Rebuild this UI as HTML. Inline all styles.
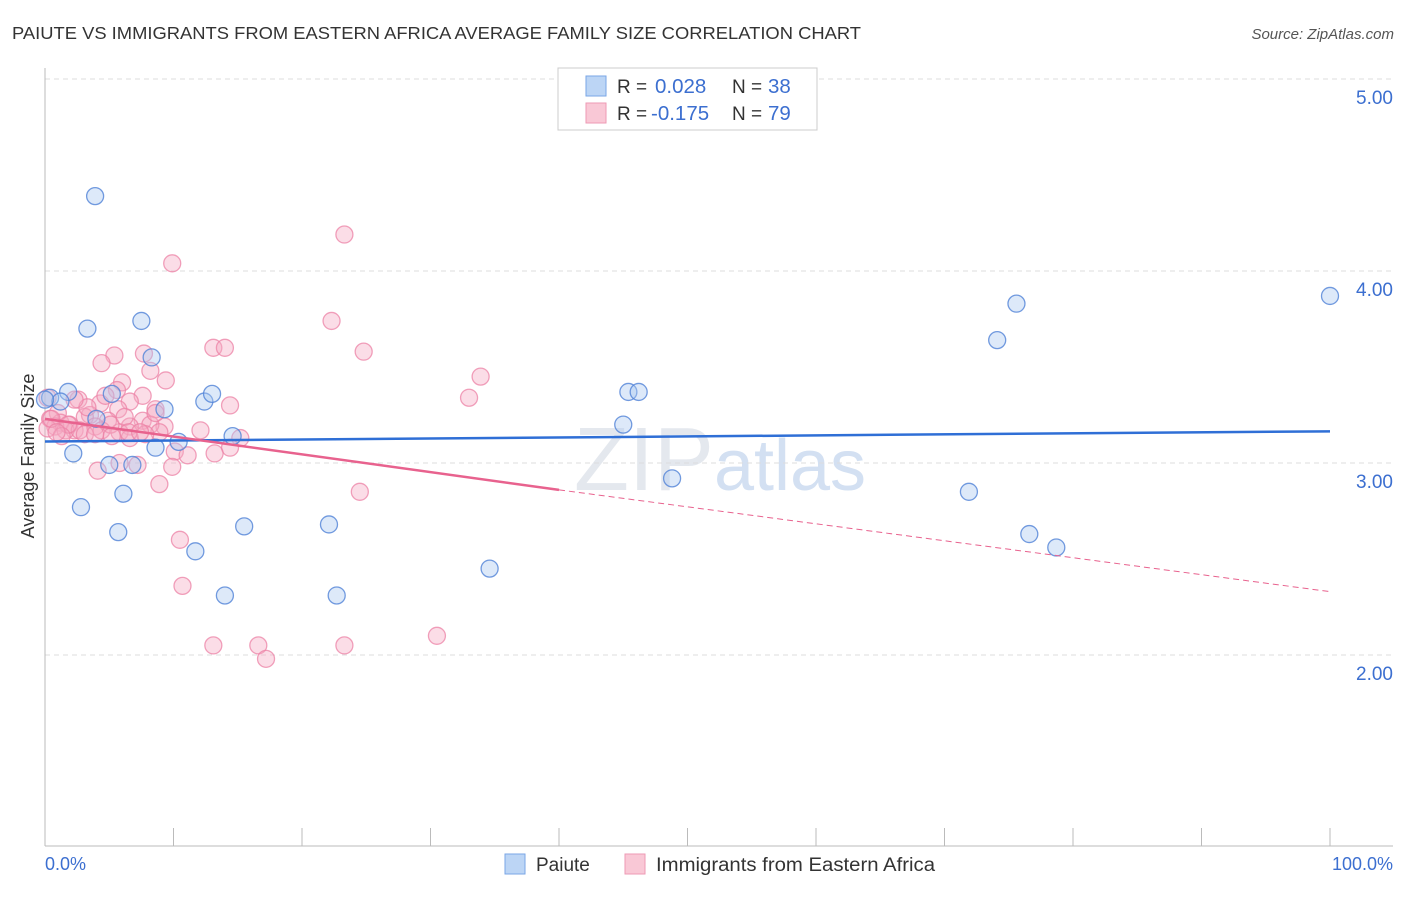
<!DOCTYPE html>
<html><head><meta charset="utf-8"><style>
body{margin:0;background:#fff;font-family:"Liberation Sans",sans-serif}
svg text{font-family:"Liberation Sans",sans-serif}
</style></head><body>
<svg id="chart" width="1406" height="892">
<text x="12" y="39" font-size="17.5" fill="#333" textLength="849" lengthAdjust="spacingAndGlyphs">PAIUTE VS IMMIGRANTS FROM EASTERN AFRICA AVERAGE FAMILY SIZE CORRELATION CHART</text>
<text x="1394" y="39" font-size="15" fill="#555" font-style="italic" text-anchor="end">Source: ZipAtlas.com</text>
<text x="720" y="490" font-size="90" fill="#e4e8ee" text-anchor="middle" font-family="Liberation Serif">ZIP<tspan fill="#d3e0f2" font-family="Liberation Sans" font-size="72">atlas</tspan></text>
<g id="grid"></g><g id="marks"></g>
<text x="34" y="456" font-size="18" fill="#333" text-anchor="middle" transform="rotate(-90 34 456)">Average Family Size</text>
<text x="45" y="870" font-size="18" fill="#3c6fd0">0.0%</text>
<text x="1393" y="870" font-size="18" fill="#3c6fd0" text-anchor="end">100.0%</text>
<g>
<rect x="558" y="68" width="259" height="62" fill="#fff" stroke="#ccc"/>
<rect x="586" y="76" width="20" height="20" fill="#bcd5f5" stroke="#7aa6e6"/>
<rect x="586" y="103" width="20" height="20" fill="#f9c8d6" stroke="#ee9ab4"/>
<text x="617" y="93" font-size="19" fill="#333">R = <tspan x="655" fill="#3c6fd0" font-size="20.5">0.028</tspan><tspan x="732">N = </tspan><tspan x="768" fill="#3c6fd0" font-size="20.5">38</tspan></text>
<text x="617" y="120" font-size="19" fill="#333">R = <tspan x="651" fill="#3c6fd0" font-size="20.5">-0.175</tspan><tspan x="732">N = </tspan><tspan x="768" fill="#3c6fd0" font-size="20.5">79</tspan></text>
</g>
<g>
<rect x="505" y="854" width="20" height="20" fill="#bcd5f5" stroke="#7aa6e6"/>
<text x="536" y="871" font-size="19" fill="#333">Paiute</text>
<rect x="625" y="854" width="20" height="20" fill="#f9c8d6" stroke="#ee9ab4"/>
<text x="656" y="871" font-size="19" fill="#333" textLength="279" lengthAdjust="spacingAndGlyphs">Immigrants from Eastern Africa</text>
</g>
</svg>
<script>
const yTicks=[2,3,4,5];
const yTickLabels=["2.00","3.00","4.00","5.00"];
const xTicks=[10,20,30,40,50,60,70,80,90,100];
const paiuteX=[3.9,3.3,7.5,8.3,1.8,0.4,1.2,5.2,9.3,12.4,13,4,14.6,10.4,8.6,2.2,5,6.8,6.1,2.8,5.7,15.5,11.7,22.1,14,22.7,34.6,45.4,46.2,45,48.8,71.9,74.1,75.6,100,76.6,78.7,0];
const paiuteY=[4.39,3.7,3.74,3.55,3.37,3.34,3.32,3.36,3.28,3.32,3.36,3.23,3.14,3.11,3.08,3.05,2.99,2.99,2.84,2.77,2.64,2.67,2.54,2.68,2.31,2.31,2.45,3.37,3.37,3.2,2.92,2.85,3.64,3.83,3.87,2.63,2.56,3.33];
const immX=[23.3,9.9,22.3,24.8,33.9,33,13.1,14,7.7,5.4,4.4,8.2,9.4,6,5.6,7.6,2.6,4.3,6.6,8.6,5.7,14.4,1,3.5,3.1,4.9,7.6,1.2,1.9,0.4,0.8,2.3,3.9,6.6,9.3,8.2,0.2,1.6,2.7,4.4,5.8,8.9,6.6,15.2,14.4,10.1,11.1,13.2,4.1,5.8,7.2,9.9,8.9,24.5,10.5,10.7,13.1,16.6,17.2,23.3,30.5,0.5,1.8,3.3,5.1,7.8,12.1,3.1,1.3,5.2,0.2,4.7,6.2,8.6,6.5,2.3,3.9,7.4,0.9];
const immY=[4.19,4.04,3.74,3.58,3.45,3.34,3.6,3.6,3.57,3.56,3.52,3.48,3.43,3.42,3.38,3.35,3.33,3.31,3.32,3.28,3.28,3.3,3.26,3.25,3.24,3.22,3.22,3.21,3.2,3.23,3.19,3.17,3.19,3.19,3.19,3.2,3.18,3.17,3.17,3.17,3.16,3.16,3.13,3.13,3.08,3.06,3.04,3.05,2.96,3,2.99,2.98,2.89,2.85,2.6,2.36,2.05,2.05,1.98,2.05,2.1,3.23,3.2,3.29,3.2,3.15,3.17,3.15,3.14,3.14,3.34,3.35,3.24,3.26,3.16,3.33,3.15,3.16,3.16];
const sx=v=>45+v*12.85, sy=v=>79+(5-v)*192;
const NS="http://www.w3.org/2000/svg";
const grid=document.getElementById('grid'), marks=document.getElementById('marks');
function mk(tag,attrs,parent){const e=document.createElementNS(NS,tag);for(const k in attrs)e.setAttribute(k,attrs[k]);parent.appendChild(e);return e;}
yTicks.forEach((t,i)=>{
 const l=mk('line',{x1:45,x2:1393,y1:sy(t),y2:sy(t),stroke:'#ddd','stroke-dasharray':'5,4'},grid);
 
 
 const tx=mk('text',{x:1393,y:sy(t)+25,'font-size':19,fill:'#3c6fd0','text-anchor':'end'},grid);
 tx.textContent=yTickLabels[i];
 
 
});
const ax=mk('line',{x1:45,x2:45,y1:68,y2:846,stroke:'#bbb'},grid);


const bx=mk('line',{x1:45,x2:1393,y1:846,y2:846,stroke:'#bbb'},grid);


xTicks.forEach(t=>{
 const l=mk('line',{x1:sx(t),x2:sx(t),y1:828,y2:846,stroke:'#bbb'},grid);
 
 
});
immX.forEach((x,i)=>{
 const c=mk('circle',{cx:sx(x),cy:sy(immY[i]),r:8.5,fill:'rgba(246,170,195,0.4)',stroke:'rgba(236,130,165,0.75)','stroke-width':1.3},marks);
 
 
});
paiuteX.forEach((x,i)=>{
 const c=mk('circle',{cx:sx(x),cy:sy(paiuteY[i]),r:8.5,fill:'rgba(170,200,240,0.4)',stroke:'rgba(80,130,215,0.8)','stroke-width':1.3},marks);
 
 
});
const bl=mk('line',{x1:sx(0),y1:sy(3.112),x2:sx(100),y2:sy(3.165),stroke:'#2f6fd6','stroke-width':2.5},marks);


const p1=mk('line',{x1:sx(0),y1:sy(3.23),x2:sx(40),y2:sy(2.86),stroke:'#e8628e','stroke-width':2.5},marks);


const p2=mk('line',{x1:sx(40),y1:sy(2.86),x2:sx(100),y2:sy(2.33),stroke:'#e8628e','stroke-width':1,'stroke-dasharray':'6,4'},marks);


</script>
</body></html>
